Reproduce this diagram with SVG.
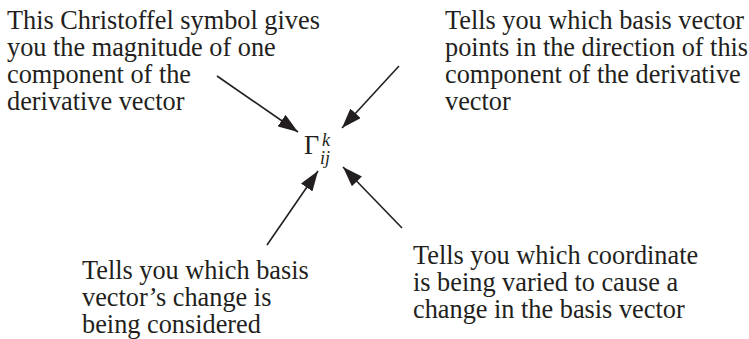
<svg xmlns="http://www.w3.org/2000/svg" width="749" height="339" viewBox="0 0 749 339">
<defs>
<style>
.t{font-family:"Liberation Serif","Times New Roman",serif;font-size:26.3px;fill:#231f20}
.s{font-size:18px;font-style:italic}
.c{stroke:#231f20;stroke-width:1.6;fill:none}
</style>
<marker id="ah" viewBox="0 0 20 14" refX="20" refY="7" markerWidth="20" markerHeight="14" markerUnits="userSpaceOnUse" orient="auto">
<path d="M0,0 L20,7 L0,14 Z" fill="#231f20"/>
</marker>
</defs>
<rect width="749" height="339" fill="#ffffff"/>
<g id="connectors">
<line class="c" x1="217" y1="76" x2="298" y2="132" marker-end="url(#ah)"/>
<line class="c" x1="399" y1="66" x2="342" y2="128" marker-end="url(#ah)"/>
<line class="c" x1="267" y1="245" x2="318" y2="171" marker-end="url(#ah)"/>
<line class="c" x1="402" y1="228" x2="343" y2="167" marker-end="url(#ah)"/>
</g>
<g id="symbol">
<text class="t" x="304" y="154">Γ<tspan class="s" x="322" y="146">k</tspan><tspan class="s" x="320" y="164">ij</tspan></text>
</g>
<g id="note-top-left">
<text class="t" x="7" y="29">This Christoffel symbol gives</text>
<text class="t" x="7" y="56">you the magnitude of one</text>
<text class="t" x="7" y="83">component of the</text>
<text class="t" x="7" y="110">derivative vector</text>
</g>
<g id="note-top-right">
<text class="t" x="445" y="29">Tells you which basis vector</text>
<text class="t" x="445" y="56">points in the direction of this</text>
<text class="t" x="445" y="83">component of the derivative</text>
<text class="t" x="445" y="110">vector</text>
</g>
<g id="note-bottom-left">
<text class="t" x="82" y="279">Tells you which basis</text>
<text class="t" x="82" y="306">vector’s change is</text>
<text class="t" x="82" y="333">being considered</text>
</g>
<g id="note-bottom-right">
<text class="t" x="413" y="264">Tells you which coordinate</text>
<text class="t" x="413" y="291">is being varied to cause a</text>
<text class="t" x="413" y="318">change in the basis vector</text>
</g>
</svg>
